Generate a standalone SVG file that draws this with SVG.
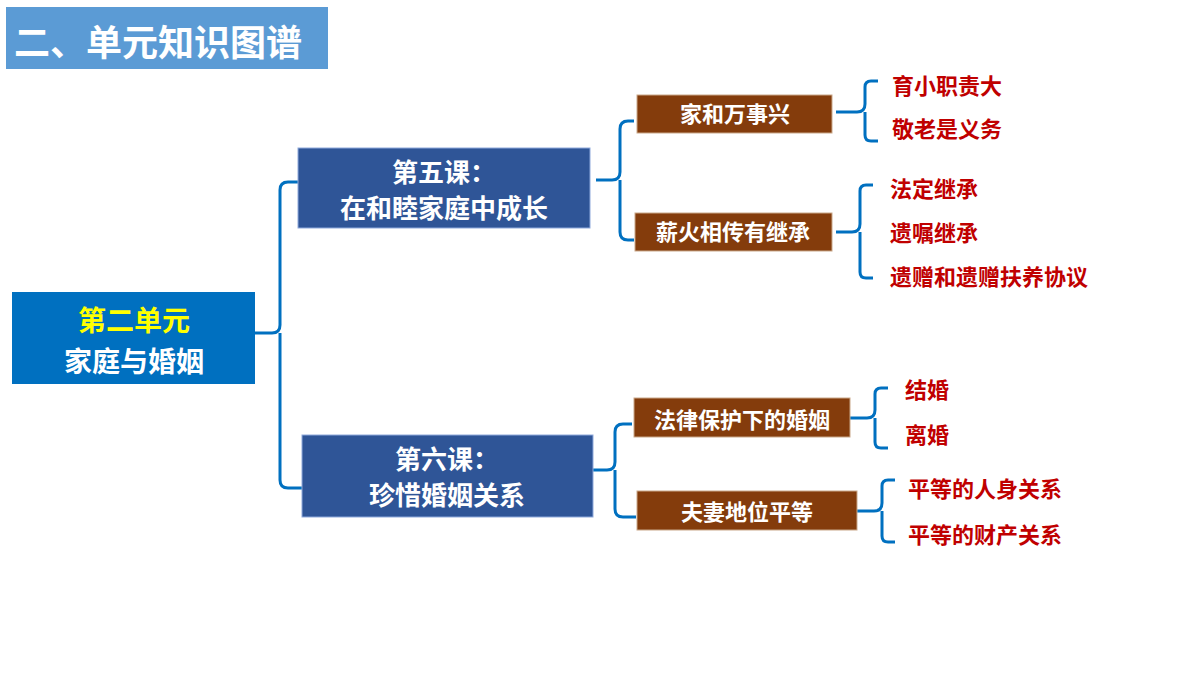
<svg xmlns="http://www.w3.org/2000/svg" width="1200" height="675" viewBox="0 0 1200 675">
<style>
text{font-family:"Noto Sans CJK SC","Liberation Sans",sans-serif;font-weight:bold}
.w{fill:#fff}
.c{text-anchor:middle}
.lsn{fill:#2f5597;stroke:#8faadc;stroke-width:1}
.brn{fill:#843c0c;stroke:#c9a88a;stroke-width:1}
.red{fill:#c00000;font-size:22px}
.con path{fill:none;stroke:#0070c0;stroke-width:3;stroke-linejoin:round}
</style>
<rect width="1200" height="675" fill="#fff"/>
<g id="title"><rect x="6" y="7" width="322" height="62" fill="#5b9bd5"/><text x="14" y="56" class="w" font-size="36">二、单元知识图谱</text></g>
<g class="con">
<path d="M255 333 H272 Q280 333 280 325 V190 Q280 182 288 182 H298 M280 333 V480 Q280 488 288 488 H302"/>
<path d="M596 180 H612 Q620 180 620 172 V129 Q620 121 628 121 H634 M620 180 V232 Q620 240 628 240 H634"/>
<path d="M593 470 H607 Q615 470 615 462 V432 Q615 424 623 424 H632 M615 470 V509 Q615 517 623 517 H636"/>
<path d="M836 112 H857 Q865 112 865 104 V87 Q865 81 871 81 H878 M865 112 V135 Q865 141 871 141 H878"/>
<path d="M836 232 H852 Q860 232 860 224 V191 Q860 185 866 185 H873 M860 232 V272 Q860 278 866 278 H873"/>
<path d="M850 418 H867 Q875 418 875 410 V394 Q875 388 881 388 H888 M875 418 V442 Q875 448 881 448 H888"/>
<path d="M857 511 H874 Q882 511 882 503 V486 Q882 480 888 480 H895 M882 511 V536 Q882 542 888 542 H895"/>
</g>
<g id="root"><rect x="12" y="292" width="243" height="92" fill="#0070c0"/><text x="134" y="331" class="c" font-size="28" fill="#ffff00">第二单元</text><text x="134" y="372" class="c w" font-size="28">家庭与婚姻</text></g>
<g id="l5"><rect class="lsn" x="298" y="148" width="292" height="80"/><text x="444" y="182" class="c w" font-size="26">第五课：</text><text x="444" y="218" class="c w" font-size="26">在和睦家庭中成长</text></g>
<g id="l6"><rect class="lsn" x="302" y="435" width="291" height="82"/><text x="447" y="469" class="c w" font-size="26">第六课：</text><text x="447" y="505" class="c w" font-size="26">珍惜婚姻关系</text></g>
<g id="b1"><rect class="brn" x="637" y="95" width="195" height="38"/><text x="735" y="122" class="c w" font-size="22">家和万事兴</text></g>
<g id="b2"><rect class="brn" x="635" y="213" width="197" height="38"/><text x="733" y="240" class="c w" font-size="22">薪火相传有继承</text></g>
<g id="b3"><rect class="brn" x="634" y="398" width="216" height="39"/><text x="742" y="428" class="c w" font-size="22">法律保护下的婚姻</text></g>
<g id="b4"><rect class="brn" x="637" y="491" width="220" height="39"/><text x="747" y="520" class="c w" font-size="22">夫妻地位平等</text></g>
<g id="t1"><text x="892" y="94" class="red">育小职责大</text></g>
<g id="t2"><text x="892" y="137" class="red">敬老是义务</text></g>
<g id="t3"><text x="890" y="197" class="red">法定继承</text></g>
<g id="t4"><text x="890" y="241" class="red">遗嘱继承</text></g>
<g id="t5"><text x="890" y="285" class="red">遗赠和遗赠扶养协议</text></g>
<g id="t6"><text x="905" y="398" class="red">结婚</text></g>
<g id="t7"><text x="905" y="443" class="red">离婚</text></g>
<g id="t8"><text x="908" y="497" class="red">平等的人身关系</text></g>
<g id="t9"><text x="908" y="543" class="red">平等的财产关系</text></g>
</svg>
